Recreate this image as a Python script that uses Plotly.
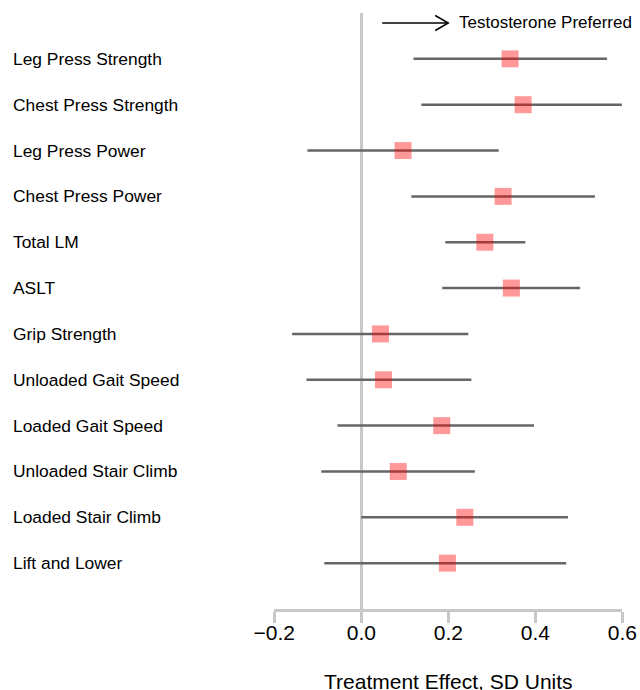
import plotly.graph_objects as go

labels = ["Leg Press Strength", "Chest Press Strength", "Leg Press Power",
          "Chest Press Power", "Total LM", "ASLT", "Grip Strength",
          "Unloaded Gait Speed", "Loaded Gait Speed", "Unloaded Stair Climb",
          "Loaded Stair Climb", "Lift and Lower"]
effect = [0.342, 0.372, 0.096, 0.326, 0.284, 0.345, 0.044, 0.051, 0.185, 0.085, 0.238, 0.198]
lower = [0.120, 0.138, -0.124, 0.115, 0.193, 0.186, -0.159, -0.126, -0.055, -0.092, 0.000, -0.085]
upper = [0.565, 0.599, 0.316, 0.537, 0.377, 0.503, 0.246, 0.253, 0.397, 0.261, 0.475, 0.471]
tick_vals = [-0.2, 0.0, 0.2, 0.4, 0.6]

rows = list(range(len(labels)))
FONT = "Liberation Sans, Arial, Helvetica, sans-serif"

fig = go.Figure()
fig.add_trace(go.Scatter(
    x=effect, y=rows, mode="markers",
    marker=dict(symbol="square", size=17, color="rgba(255,0,0,0.4)", line=dict(width=0)),
    error_x=dict(type="data", symmetric=False,
                 array=[u - e for u, e in zip(upper, effect)],
                 arrayminus=[e - l for e, l in zip(effect, lower)],
                 color="#666666", thickness=2.5, width=0),
    hoverinfo="skip", showlegend=False, cliponaxis=False,
))

annotations = []
for r, lab in zip(rows, labels):
    annotations.append(dict(text=lab, xref="paper", x=11.3 / 640, xanchor="left",
                            yref="y", y=r, yanchor="middle", showarrow=False,
                            font=dict(size=17.4, color="black", family=FONT)))
annotations.append(dict(text="Testosterone Preferred", xref="x", x=0.2207, xanchor="left",
                        yref="paper", y=(690 - 22.5) / 690, yanchor="middle", showarrow=False,
                        font=dict(size=17, color="black", family=FONT)))
annotations.append(dict(text="Treatment Effect, SD Units", xref="paper", x=448 / 640,
                        xanchor="center", yref="paper", y=(690 - 681.5) / 690,
                        yanchor="middle", showarrow=False,
                        font=dict(size=21, color="black", family=FONT)))

yc = (690 - 23) / 690
dy = 7.5 / 690
shapes = [
    dict(type="line", xref="x", yref="paper", x0=0.048, x1=0.199, y0=yc, y1=yc,
         line=dict(color="black", width=1.5)),
    dict(type="path", xref="x", yref="paper",
         path=f"M 0.170 {yc + dy} L 0.200 {yc} L 0.170 {yc - dy}",
         line=dict(color="black", width=1.5)),
]

fig.update_layout(
    width=640, height=690,
    margin=dict(l=0, r=0, t=0, b=0),
    paper_bgcolor="white", plot_bgcolor="white",
    font=dict(family=FONT, color="black"),
    xaxis=dict(domain=[274.3 / 640, 622.3 / 640], range=[-0.2, 0.6],
               tickvals=tick_vals, ticktext=["\u22120.2", "0.0", "0.2", "0.4", "0.6"],
               showline=True, linecolor="#c8c8c8", linewidth=3,
               ticks="outside", ticklen=11, tickwidth=3, tickcolor="#c8c8c8",
               tickfont=dict(size=21, color="black", family=FONT),
               ticklabelstandoff=-8,
               showgrid=False, zeroline=True, zerolinecolor="#c8c8c8", zerolinewidth=3,
               automargin=False, fixedrange=True),
    yaxis=dict(domain=[(690 - 609) / 690, (690 - 13) / 690], range=[12, -1],
               showticklabels=False, ticks="", showgrid=False, zeroline=False,
               showline=False, automargin=False, fixedrange=True),
    annotations=annotations, shapes=shapes,
)

fig.write_html("out.html", config={"displayModeBar": False},
               post_script="document.body.style.margin='0';document.body.style.overflow='hidden';")
